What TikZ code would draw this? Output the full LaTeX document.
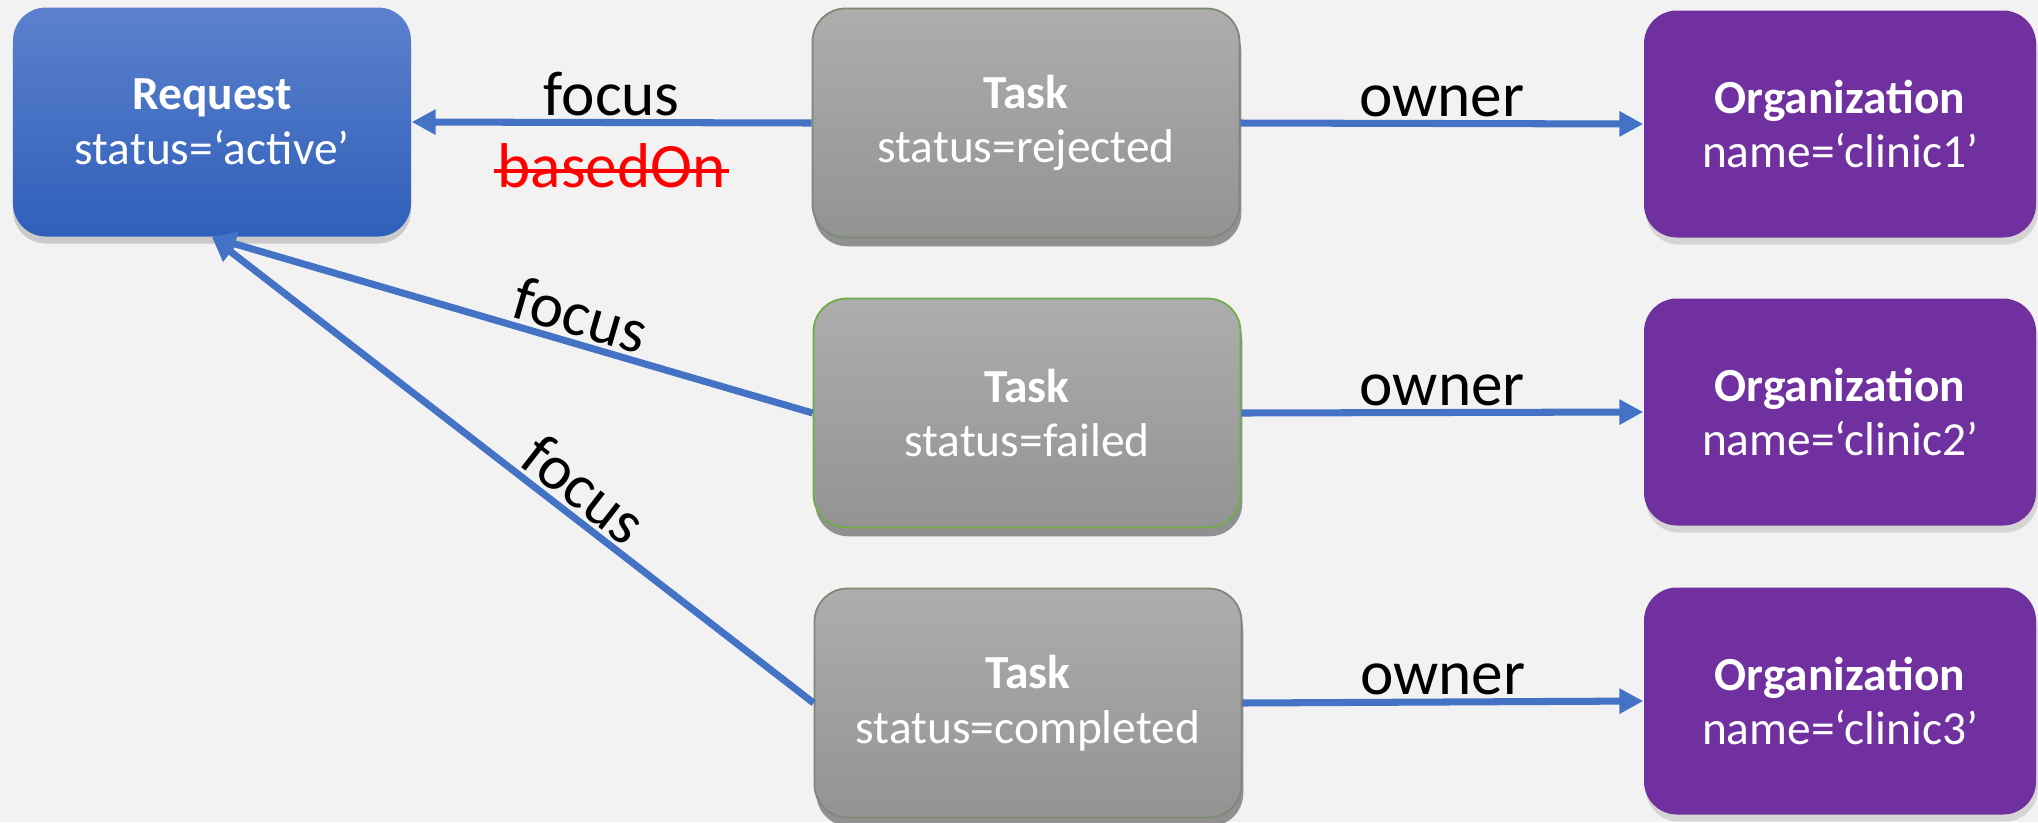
\documentclass[tikz,border=0pt]{standalone}
\usepackage{fontspec}
\setmainfont{Carlito}
\usepackage{tikz}
\usetikzlibrary{arrows.meta, positioning, shadows}
\definecolor{bg}{HTML}{F2F2F2}
\definecolor{reqtop}{HTML}{5C80CC}
\definecolor{reqbot}{HTML}{2F60BA}
\definecolor{tasktop}{HTML}{ADADAD}
\definecolor{taskbot}{HTML}{939393}
\definecolor{orgfill}{HTML}{7030A0}
\definecolor{linkblue}{HTML}{4472C4}
\definecolor{taskedge}{HTML}{7A8A74}
\definecolor{greenedge}{HTML}{70AD47}
\tikzset{
  box/.style={rounded corners=0.33cm, inner sep=0pt, align=center, text=white,
    font=\fontsize{13.5}{15.5}\selectfont},
  reqbox/.style={box, minimum width=3.98cm, minimum height=2.29cm,
    top color=reqtop, bottom color=reqbot,
    drop shadow={shadow xshift=0pt, shadow yshift=-2pt, opacity=.35}},
  taskbox/.style={box, minimum width=4.27cm, minimum height=2.29cm,
    top color=tasktop, bottom color=taskbot, draw=taskedge, line width=0.5pt,
    drop shadow={shadow xshift=0.5pt, shadow yshift=-2.5pt, opacity=.85}},
  orgbox/.style={box, minimum width=3.92cm, minimum height=2.27cm, fill=orgfill,
    drop shadow={shadow xshift=0.5pt, shadow yshift=-2pt, opacity=.25}},
  link/.style={->, draw=linkblue, line width=2pt},
  lbl/.style={font=\fontsize{18}{20}\selectfont, text=black, inner sep=1pt},
  struck/.style={text=red, path picture={
    \draw[-, red, line width=1.1pt]
      ([yshift=-1.5pt]path picture bounding box.west) --
      ([yshift=-1.5pt]path picture bounding box.east);}}
}
\begin{document}
\begin{tikzpicture}[>={Triangle[length=6.8pt,width=6.8pt]}]
\useasboundingbox[fill=bg] (0,0) rectangle (20.38,-8.22);

\node[reqbox] (req) at (2.12,-1.22) {\textbf{Request}\\status=‘active’};

\node[taskbox] (task1) at (10.26,-1.23) {\textbf{Task}\\status=rejected};
\node[taskbox, draw=greenedge] (task2) at (10.27,-4.13) {\textbf{Task}\\status=failed};
\node[taskbox] (task3) at (10.28,-7.03) {\textbf{Task}\\status=completed};

\node[orgbox] (org1) at (18.40,-1.24) {\textbf{Organization}\\name=‘clinic1’};
\node[orgbox] (org2) at (18.40,-4.12) {\textbf{Organization}\\name=‘clinic2’};
\node[orgbox] (org3) at (18.40,-7.01) {\textbf{Organization}\\name=‘clinic3’};

\draw[link] (task1.west) -- node[lbl, above] {focus}
  node[lbl, struck, below=4pt] (based) {basedOn} (req.east);
\draw[link] (task2.west) -- node[lbl, above, sloped, pos=0.4] {focus} (req.south);
\draw[link] (task3.west) -- node[lbl, above, sloped, pos=0.41] {focus} (req.south);

\draw[link] (task1.east) -- node[lbl, above] {owner} (org1.west);
\draw[link] (task2.east) -- node[lbl, above] {owner} (org2.west);
\draw[link] (task3.east) -- node[lbl, above] {owner} (org3.west);
\end{tikzpicture}
\end{document}
